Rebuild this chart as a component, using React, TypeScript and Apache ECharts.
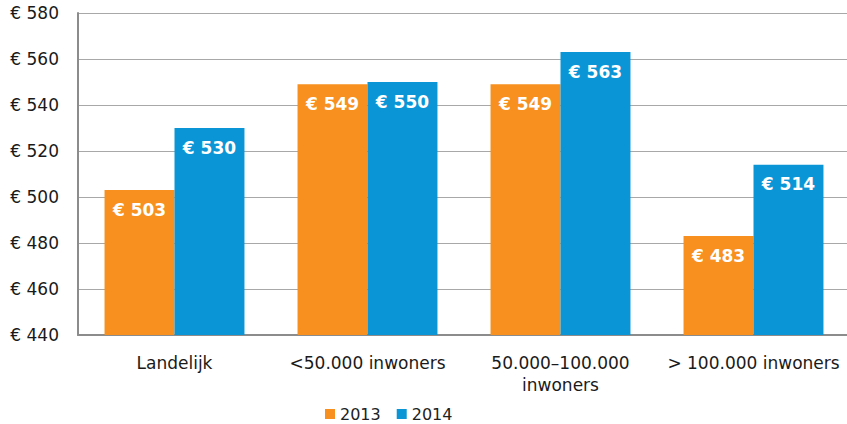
import React, { useEffect, useRef } from "react";
import * as echarts from "echarts";

const categories = ["Landelijk", "<50.000 inwoners", "50.000–100.000\ninwoners", "> 100.000 inwoners"];
const seriesNames = ["2013", "2014"];
const values2013 = [503, 549, 549, 483];
const values2014 = [530, 550, 563, 514];
const yMin = 440;
const yMax = 580;
const yStep = 20;

const ORANGE = "#F7901E";
const BLUE = "#0A96D6";
const FONT = "DejaVu Sans";

export default function App() {
  const ref = useRef<HTMLDivElement>(null);
  useEffect(() => {
    if (!ref.current) return;
    const chart = echarts.init(ref.current, null, { renderer: "svg" });
    const label = {
      show: true,
      position: "insideTop",
      distance: 11,
      color: "#ffffff",
      fontFamily: FONT,
      fontWeight: "bold",
      fontSize: 17,
      formatter: (p: any) => "€ " + p.value,
    };
    chart.setOption({
      animation: false,
      grid: { left: 78, right: 0, top: 13, bottom: 89, containLabel: false },
      legend: {
        data: seriesNames,
        left: 325,
        top: 406,
        padding: 0,
        itemWidth: 10,
        itemHeight: 10,
        itemGap: 16,
        icon: "rect",
        textStyle: { fontFamily: FONT, fontSize: 16, color: "#222" },
      },
      xAxis: {
        type: "category",
        data: categories,
        axisTick: { show: false },
        axisLine: { lineStyle: { color: "#8c8c8c", width: 2 } },
        axisLabel: {
          fontFamily: FONT,
          fontSize: 17,
          color: "#1a1a1a",
          margin: 17,
          lineHeight: 22,
          interval: 0,
        },
      },
      yAxis: {
        type: "value",
        min: yMin,
        max: yMax,
        interval: yStep,
        axisLine: { show: true, lineStyle: { color: "#8c8c8c", width: 2 } },
        axisTick: { show: false },
        splitLine: { lineStyle: { color: "#a8a8a8", width: 1.2 } },
        axisLabel: {
          fontFamily: FONT,
          fontSize: 17,
          color: "#1a1a1a",
          margin: 19,
          formatter: (v: number) => "€ " + v,
        },
      },
      series: [
        {
          name: seriesNames[0],
          type: "bar",
          data: values2013,
          itemStyle: { color: ORANGE },
          barGap: "0%",
          barCategoryGap: "27.5%",
          label,
        },
        {
          name: seriesNames[1],
          type: "bar",
          data: values2014,
          itemStyle: { color: BLUE },
          barGap: "0%",
          barCategoryGap: "27.5%",
          label,
        },
      ],
    });
    return () => chart.dispose();
  }, []);
  return (
    <div
      style={{
        position: "fixed",
        left: 0,
        top: 0,
        width: 847,
        height: 424,
        overflow: "hidden",
        background: "#fff",
      }}
    >
      <div ref={ref} style={{ width: 850, height: 424 }} />
    </div>
  );
}
